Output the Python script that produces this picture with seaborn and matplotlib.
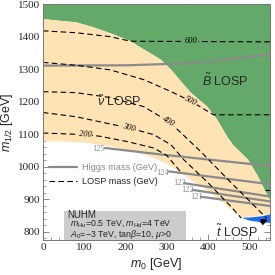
import numpy as np
import pandas as pd
import matplotlib
matplotlib.use('Agg')
import matplotlib.pyplot as plt
import seaborn as sns

# region boundaries (m0 [GeV], m1/2 [GeV])
green_x = [0, 81, 122, 171, 212, 244, 285, 310, 330, 358, 398, 422, 446, 462, 497, 521, 537, 554]
green_y = [1454, 1444, 1429, 1407, 1386, 1361, 1330, 1299, 1269, 1228, 1185, 1145, 1093, 1065, 1022, 970, 929, 889]
white_x = [0, 49, 105, 163, 220, 268, 300, 330, 359, 407, 448, 480, 510, 554]
white_y = [1078, 1078, 1074, 1063, 1047, 1028, 1010, 985, 960, 920, 877, 845, 848, 857]
blue_x = [480, 500, 530, 554]
blue_top = [845, 846, 850, 857]
blue_low = [845, 836, 831, 829]

# Higgs mass contours
higgs = {
    '126': ([0, 200, 350, 480, 554], [1311, 1312, 1318, 1335, 1346]),
    '125': ([150, 293, 554], [1058, 1037, 1002]),
    '124': ([305, 554], [986, 946]),
    '123': ([342, 554], [950, 908]),
    '122': ([363, 554], [929, 893]),
    '121': ([383, 554], [908, 879]),
}
higgs_lab_x = [410, 134, 289, 330, 350, 371]
higgs_lab_y = [1322, 1056, 980, 950, 929, 908]

# LOSP mass contours
losp = {
    '600': ([0, 81, 163, 212, 554], [1418, 1412, 1400, 1386, 1384]),
    '500': ([0, 81, 163, 244, 309, 358, 413, 554], [1321, 1312, 1298, 1268, 1232, 1202, 1160, 1160]),
    '400': ([0, 80, 163, 244, 305, 334, 383, 449, 505, 541], [1231, 1228, 1213, 1185, 1139, 1105, 1046, 960, 889, 843]),
    '400b': ([537, 554], [929, 929]),
    '300': ([0, 80, 207, 268, 310, 341, 400, 456, 480], [1167, 1154, 1120, 1099, 1068, 1022, 951, 877, 843]),
    '200': ([0, 102, 138, 203, 268, 300, 335], [1104, 1099, 1094, 1078, 1058, 1035, 982]),
}
losp_lab = ['600', '500', '400', '300', '200']
losp_lab_x = [358, 358, 305, 207, 102]
losp_lab_y = [1386, 1202, 1139, 1120, 1099]
losp_lab_rot = [0, -27, -32, -15, -4]
losp_lab_bg = ['green', 'tan', 'tan', 'tan', 'tan']

GREEN = '#64a969'
TAN = '#ffe3b5'
BLUE = '#1f6cf0'
GRAY = '#8a8a8a'

sns.set_theme(style='ticks')
plt.rcParams['font.family'] = ['Liberation Sans', 'DejaVu Sans']
plt.rcParams['mathtext.fontset'] = 'custom'
plt.rcParams['mathtext.rm'] = 'Liberation Sans'
plt.rcParams['mathtext.it'] = 'Liberation Sans:italic'

fig = plt.figure(figsize=(2.75, 2.75), dpi=100)
ax = fig.add_axes([0.156, 0.127, 0.826, 0.858])

# regions
ax.fill(green_x + [554, 0], green_y + [1500, 1500], color=GREEN, lw=0, zorder=1)
ax.fill(white_x + [554] + green_x[::-1], white_y + [green_y[-1]] + green_y[::-1], color=TAN, lw=0, zorder=1)
ax.fill_between(blue_x, blue_low, blue_top, color=BLUE, lw=0, zorder=2)

# higgs contours
for name, (xs, ys) in higgs.items():
    sns.lineplot(x=xs, y=ys, ax=ax, color=GRAY, lw=1.6, zorder=3)
for lab, lx, ly in zip(higgs.keys(), higgs_lab_x, higgs_lab_y):
    bg = GREEN if lab == '126' else 'none'
    ax.text(lx, ly, lab, fontsize=6, color=GRAY, family='Liberation Serif', ha='center', va='center',
            zorder=5, bbox=dict(fc=bg, ec='none', pad=0.3))

# LOSP contours
for name, (xs, ys) in losp.items():
    sns.lineplot(x=xs, y=ys, ax=ax, color='black', lw=0.8, ls=(0, (5, 3)), zorder=4)
for lab, lx, ly, rot, bg in zip(losp_lab, losp_lab_x, losp_lab_y, losp_lab_rot, losp_lab_bg):
    ax.text(lx, ly, lab, fontsize=6, color='black', family='Liberation Serif', style='italic',
            ha='center', va='center', rotation=rot, zorder=5,
            bbox=dict(fc=GREEN if bg == 'green' else TAN, ec='none', pad=0.4))

# region labels
ax.text(441, 1265, r'$\tilde{B}$ LOSP', fontsize=9, ha='center', va='center', zorder=6)
ax.text(185, 1199, r'$\tilde{\nu}$ LOSP', fontsize=9, ha='center', va='center', zorder=6)
ax.annotate(r'$\tilde{t}$ LOSP', xy=(545, 838), xytext=(470, 800), fontsize=9, ha='center', va='center',
            zorder=6, arrowprops=dict(arrowstyle='-|>', color='black', lw=1.3, mutation_scale=8,
                                      shrinkA=14, shrinkB=0))

# legend
leg_handles = [plt.Line2D([], [], color=GRAY, lw=1.6),
               plt.Line2D([], [], color='black', lw=0.8, ls=(0, (5, 3)))]
leg = ax.legend(leg_handles, ['Higgs mass (GeV)', 'LOSP mass (GeV)'], loc='upper left',
                bbox_to_anchor=(0.0, 0.355), frameon=False, fontsize=6.6, handlelength=3.0,
                handletextpad=0.6, labelspacing=0.6, borderaxespad=0.3)
leg.get_texts()[0].set_color(GRAY)

# parameter box
ax.add_patch(plt.Rectangle((51, 775), 295, 89, fc='#cccccc', ec='none', zorder=5))
ax.text(58, 853, 'NUHM', fontsize=7, va='center', zorder=6)
ax.text(66, 825, r'$m_{\rm Hu}$=0.5 TeV, $m_{\rm Hd}$=4 TeV', fontsize=6.3, va='center', zorder=6)
ax.text(66, 792, r'$A_0$=$-$3 TeV, tan$\beta$=10, $\mu$>0', fontsize=6.3, va='center', zorder=6)

ax.set_xlim(0, 550)
ax.set_ylim(775, 1500)
ax.set_xticks(np.arange(0, 501, 100))
ax.set_yticks(np.arange(800, 1501, 100))
ax.set_xticks(np.arange(0, 551, 20), minor=True)
ax.set_yticks(np.arange(780, 1501, 20), minor=True)
ax.tick_params(which='both', direction='in', top=True, right=True, color='#777777',
               labelsize=8, labelfontfamily='Liberation Serif', pad=2)
ax.tick_params(which='major', length=4, width=0.6)
ax.tick_params(which='minor', length=2, width=0.5)
for s in ax.spines.values():
    s.set_color('#777777')
    s.set_linewidth(0.7)
    s.set_zorder(7)
ax.set_xlabel(r'$m_0$ [GeV]', fontsize=9, labelpad=3)
ax.set_ylabel(r'$m_{1/2}$ [GeV]', fontsize=9, labelpad=2)

fig.savefig('out.png', dpi=100)
